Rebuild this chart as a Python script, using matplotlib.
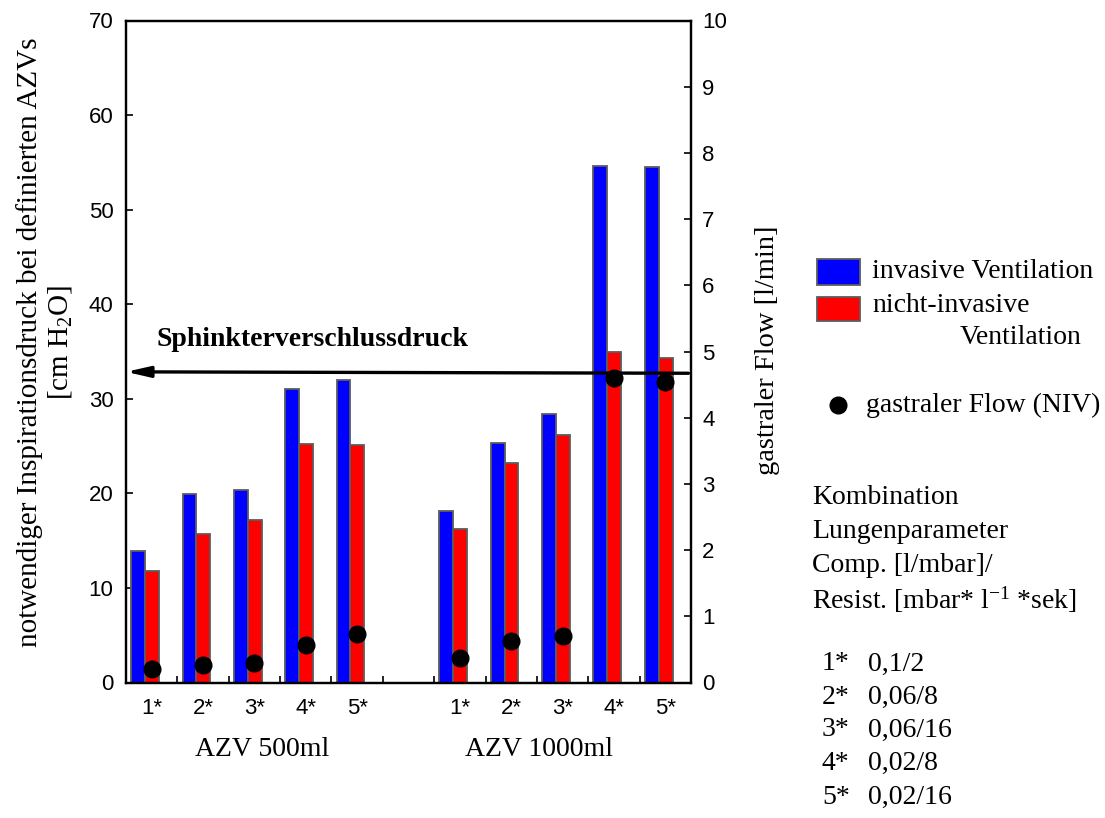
import matplotlib
matplotlib.use("Agg")
import matplotlib.pyplot as plt
from matplotlib.patches import Rectangle
from matplotlib.lines import Line2D
import numpy as np

# --- data -----------------------------------------------------------------
combos = ["1*", "2*", "3*", "4*", "5*"]
groups = ["AZV 500ml", "AZV 1000ml"]

# required inspiratory pressure [cm H2O]
invasive_500 = [13.9, 19.9, 20.4, 31.0, 32.0]
niv_500 = [11.8, 15.7, 17.2, 25.2, 25.1]
invasive_1000 = [18.1, 25.3, 28.4, 54.6, 54.5]
niv_1000 = [16.2, 23.2, 26.2, 34.9, 34.3]

# gastric flow during NIV [l/min]
flow_500 = [0.20, 0.26, 0.30, 0.57, 0.73]
flow_1000 = [0.37, 0.63, 0.70, 4.60, 4.54]

# sphincter closing pressure [cm H2O]
sphincter_pressure = (32.85, 32.7)

combo_params = ["0,1/2", "0,06/8", "0,06/16", "0,02/8", "0,02/16"]

# --- styling --------------------------------------------------------------
SERIF = "Liberation Serif"
SANS = "Liberation Sans"
plt.rcParams["mathtext.fontset"] = "custom"
plt.rcParams["mathtext.rm"] = SERIF
plt.rcParams["mathtext.it"] = SERIF + ":italic"
plt.rcParams["mathtext.bf"] = SERIF + ":bold"

W, H = 1105, 818
fig = plt.figure(figsize=(W / 100, H / 100), dpi=100)


def fx(px):
    return px / W


def fy(py):
    return 1 - py / H


ax = fig.add_axes([fx(126), fy(682.5), fx(691) - fx(126), fy(20.5) - fy(682.5)])
ax2 = ax.twinx()

# slot positions: 5 combos, an empty slot, 5 combos
pos_500 = np.arange(5)
pos_1000 = np.arange(5) + 6
positions = np.concatenate([pos_500, pos_1000])
inv = invasive_500 + invasive_1000
niv = niv_500 + niv_1000
flow = flow_500 + flow_1000

bw = 0.27
edge = "#5c5c5c"
ax.bar(positions - 0.265, inv, width=bw, color="#0000ff", edgecolor=edge,
       linewidth=1.3, zorder=2)
ax.bar(positions + 0.005, niv, width=bw, color="#ff0000", edgecolor=edge,
       linewidth=1.3, zorder=2)

ax.set_xlim(-0.5, 10.5)
ax.set_ylim(0, 70)
ax2.set_ylim(0, 10)

# sphincter closing pressure arrow
ax.annotate("", xy=(-0.5, sphincter_pressure[0]),
            xytext=(10.45, sphincter_pressure[1]),
            arrowprops=dict(arrowstyle="-|>,head_length=1.4,head_width=0.32",
                            color="black", lw=2.4, shrinkA=0, shrinkB=0),
            zorder=4, annotation_clip=False)

ax2.plot(positions, flow, "o", color="black", markersize=12, zorder=5)
ax2.set_zorder(ax.get_zorder() + 1)
ax2.patch.set_visible(False)

# ticks
ax.set_xticks(positions)
ax.set_xticklabels(combos + combos, fontfamily=SANS, fontsize=16)
ax.set_xticks(np.arange(0.5, 10.5, 1.0), minor=True)
ax.tick_params(axis="x", which="major", length=0, pad=11)
ax.tick_params(axis="x", which="minor", direction="in", length=5, width=1.2)
ax.set_yticks(np.arange(0, 71, 10))
ax.tick_params(axis="y", direction="in", length=5, width=1.2, pad=9,
               labelsize=16)
for lbl in ax.get_yticklabels():
    lbl.set_fontfamily(SANS)
ax2.set_yticks(np.arange(0, 11, 1))
ax2.tick_params(axis="y", direction="in", length=5, width=1.2, pad=8,
                labelsize=16)
for lbl in ax2.get_yticklabels():
    lbl.set_fontfamily(SANS)

for a in (ax, ax2):
    for s in a.spines.values():
        s.set_linewidth(1.6)

# axis titles
fig.text(fx(45), fy(342), "notwendiger Inspirationsdruck bei definierten AZVs\n[cm H$_2$O]",
         rotation=90, ha="center", va="center", multialignment="center",
         fontfamily=SERIF, fontsize=21, linespacing=1.15)
fig.text(fx(768), fy(350), "gastraler Flow [l/min]", rotation=90,
         ha="center", va="center", fontfamily=SERIF, fontsize=20.5)

# group labels
fig.text(fx(262.5), fy(750), groups[0], ha="center", va="center",
         fontfamily=SERIF, fontsize=20)
fig.text(fx(539), fy(750), groups[1], ha="center", va="center",
         fontfamily=SERIF, fontsize=20)

fig.text(fx(157), fy(340), "Sphinkterverschlussdruck", ha="left", va="center",
         fontfamily=SERIF, fontsize=20, fontweight="bold")

# legend
fig.add_artist(Rectangle((fx(817), fy(285)), fx(860) - fx(817), fy(259) - fy(285),
                         transform=fig.transFigure, facecolor="#0000ff",
                         edgecolor=edge, linewidth=1.3))
fig.add_artist(Rectangle((fx(817), fy(321)), fx(860) - fx(817), fy(297) - fy(321),
                         transform=fig.transFigure, facecolor="#ff0000",
                         edgecolor=edge, linewidth=1.3))
fig.text(fx(872), fy(272), "invasive Ventilation", ha="left", va="center",
         fontfamily=SERIF, fontsize=20)
fig.text(fx(872), fy(305), "nicht-invasive", ha="left", va="center",
         fontfamily=SERIF, fontsize=20)
fig.text(fx(960), fy(338), "Ventilation", ha="left", va="center",
         fontfamily=SERIF, fontsize=20)
fig.add_artist(Line2D([fx(838)], [fy(405)], marker="o", color="black",
                      markersize=12, transform=fig.transFigure))
fig.text(fx(866), fy(405), "gastraler Flow (NIV)", ha="left", va="center",
         fontfamily=SERIF, fontsize=20)

# lung parameter key
info = ["Kombination", "Lungenparameter", "Comp. [l/mbar]/",
        "Resist. [mbar* l$^{-1}$ *sek]"]
for txt, py in zip(info, [498, 531, 565, 600]):
    fig.text(fx(812), fy(py), txt, ha="left", va="center",
             fontfamily=SERIF, fontsize=20)
for c, p, py in zip(combos, combo_params, [664, 697, 730, 763, 797]):
    fig.text(fx(822), fy(py), c, ha="left", va="center",
             fontfamily=SERIF, fontsize=20)
    fig.text(fx(868), fy(py), p, ha="left", va="center",
             fontfamily=SERIF, fontsize=20)

fig.savefig("out.png", dpi=100)
